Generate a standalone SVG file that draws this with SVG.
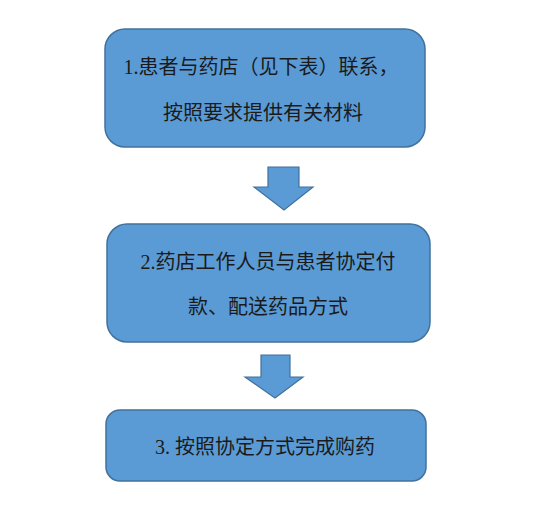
<svg xmlns="http://www.w3.org/2000/svg" width="550" height="516" viewBox="0 0 550 516">
<style>
.box{fill:#5B9BD5;stroke:#41719C;stroke-width:1.5}
.arr{fill:#5B9BD5;stroke:#41719C;stroke-width:1.2}
.t{font-family:"Liberation Serif","Noto Sans CJK SC",serif;font-size:20px;fill:#1a1a1a;text-anchor:middle}
</style>
<rect width="550" height="516" fill="#ffffff"/>
<g id="node1">
<rect class="box" x="105" y="29" width="320" height="118" rx="20"/>
<text class="t" x="261" y="74">1.患者与药店（见下表）联系，</text>
<text class="t" x="263" y="120">按照要求提供有关材料</text>
</g>
<g id="node2">
<rect class="box" x="107" y="224" width="323" height="118" rx="20"/>
<text class="t" x="268" y="269">2.药店工作人员与患者协定付</text>
<text class="t" x="268" y="314">款、配送药品方式</text>
</g>
<g id="node3">
<rect class="box" x="106" y="410" width="320" height="71" rx="14"/>
<text class="t" x="265" y="454">3. 按照协定方式完成购药</text>
</g>
<g id="connectors">
<polygon class="arr" points="268,167 299,167 299,187 313,187 284,210 254,187 268,187"/>
<polygon class="arr" points="261,355 290,355 290,377 303,377 275,398 245,377 261,377"/>
</g>
</svg>
